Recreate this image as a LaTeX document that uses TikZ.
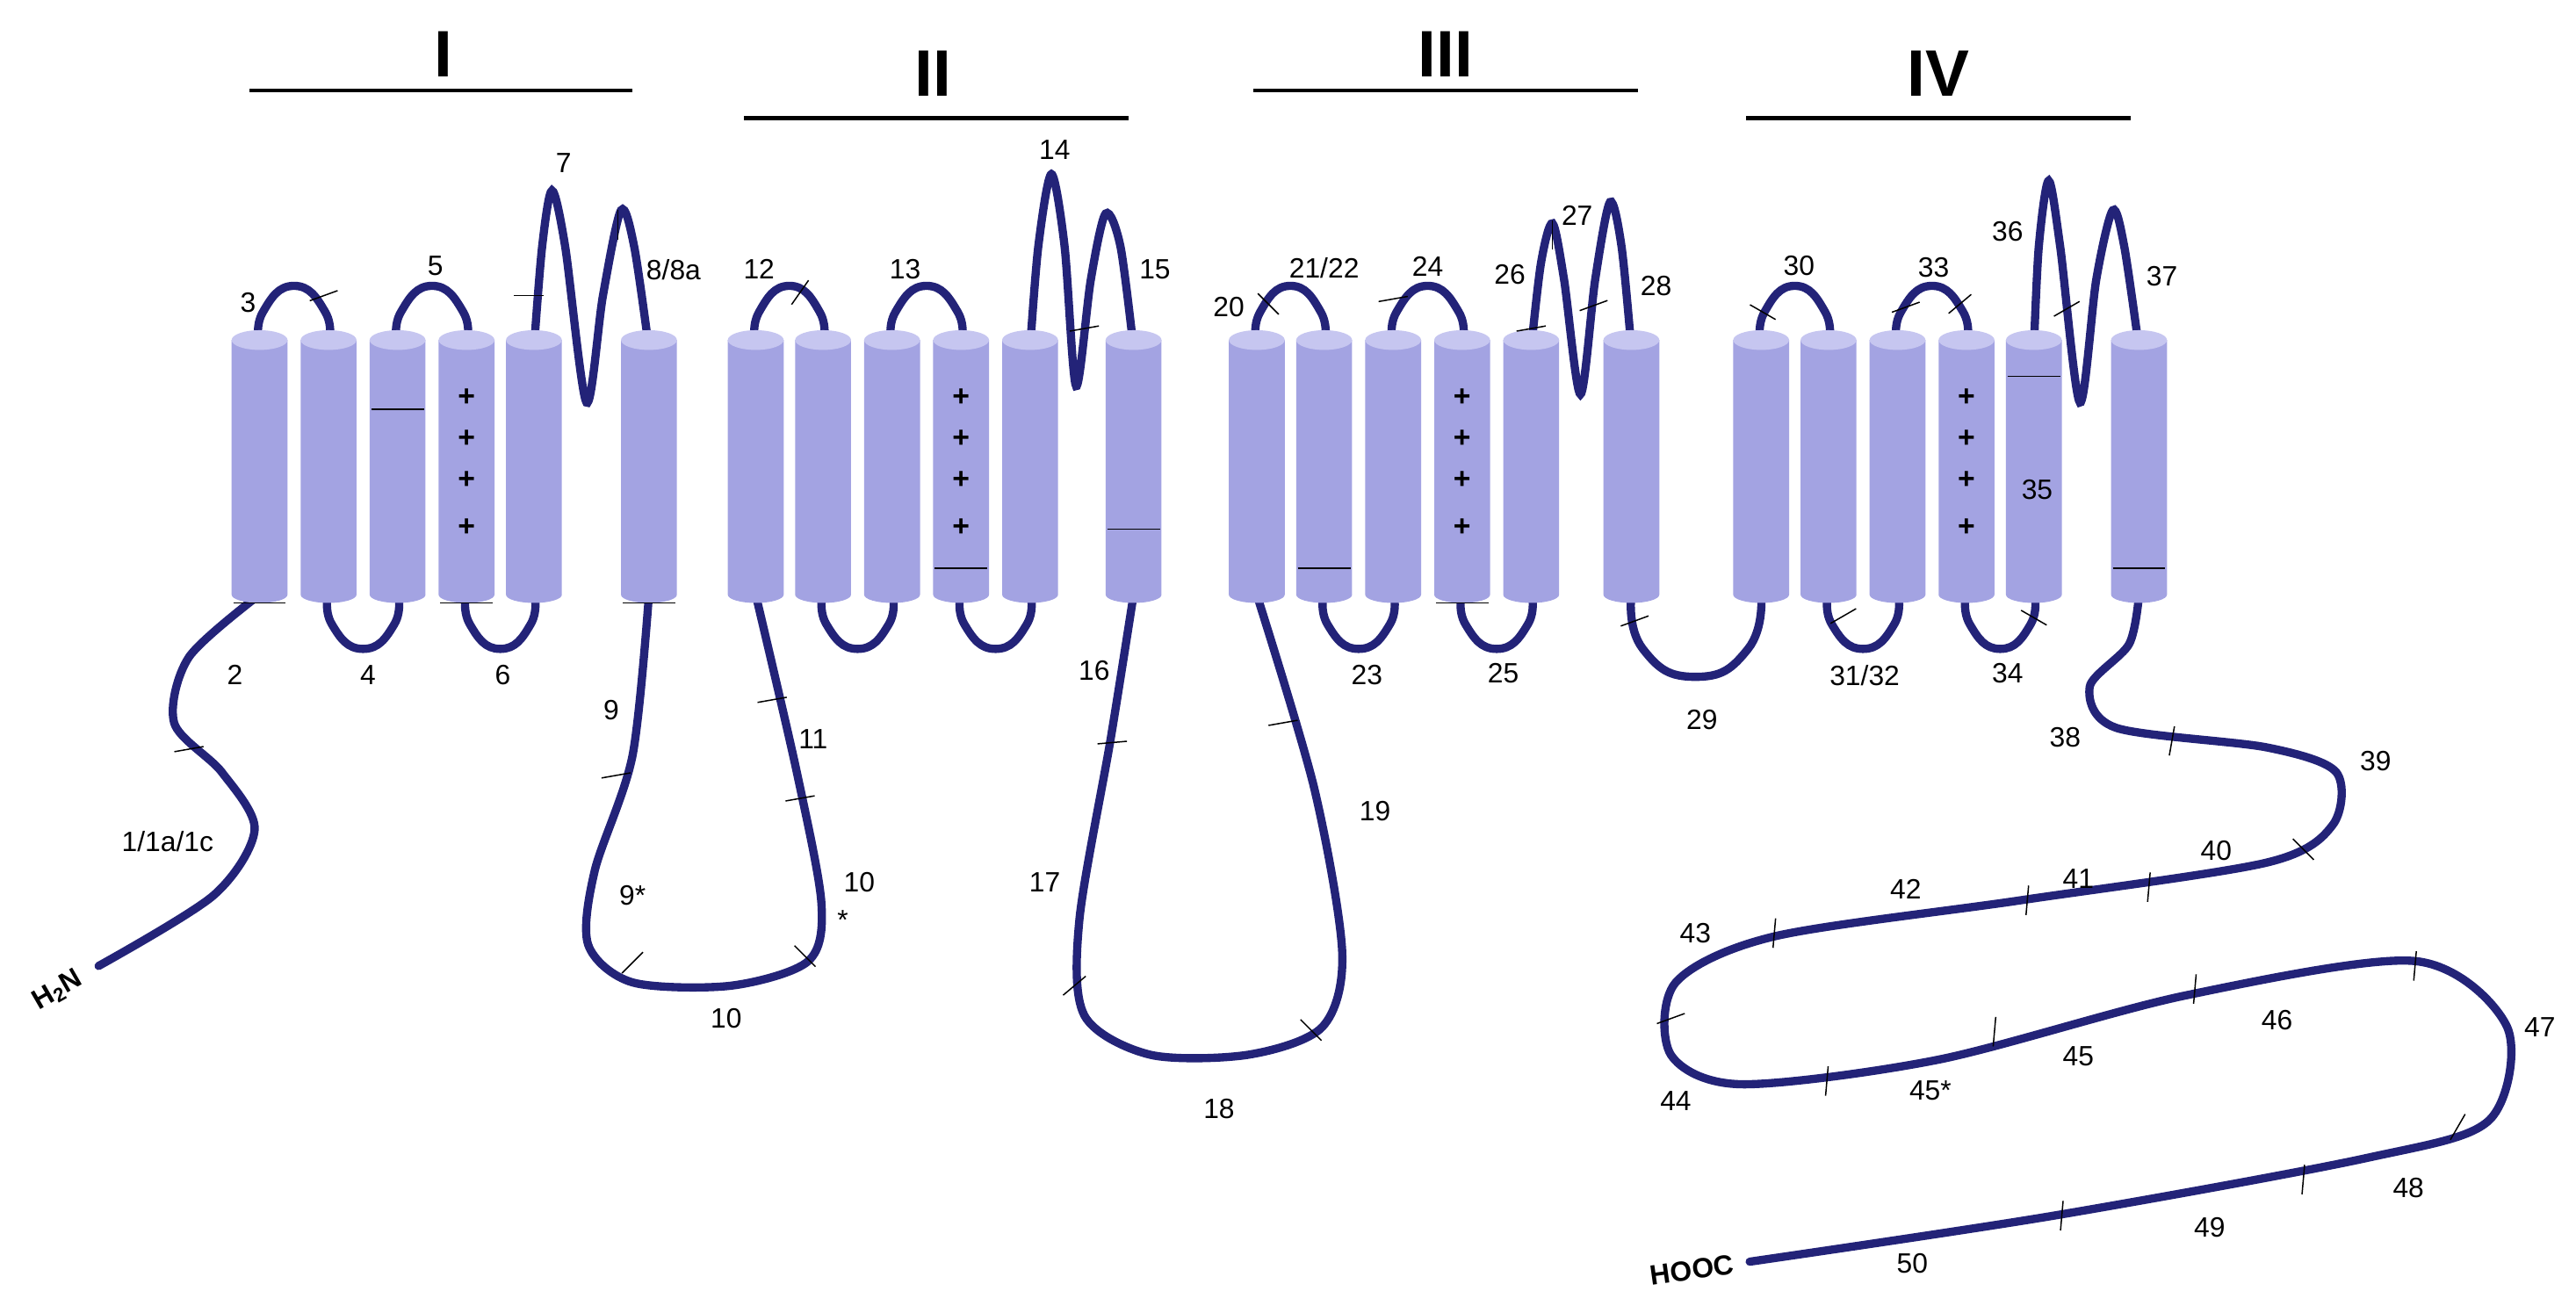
\documentclass[tikz,border=0pt]{standalone}
\usepackage{fontspec}
\setmainfont{Liberation Sans}
\definecolor{navy}{HTML}{232378}
\definecolor{cyl}{HTML}{A3A3E2}
\definecolor{cyltop}{HTML}{C6C6F0}
\tikzset{chain/.style={draw=navy,line width=5pt,line cap=round},
 lab/.style={font=\fontsize{17}{17}\selectfont},
 rom/.style={font=\bfseries\fontsize{40}{40}\selectfont},
 bar/.style={line width=2.5pt},
 tk/.style={line width=0.8pt}}
\newcommand{\cylx}[1]{%
 \fill[cyl] (#1-17,207) -- (#1-17,362) arc[start angle=180,end angle=0,x radius=17,y radius=5] -- (#1+17,207) -- cycle;
 \fill[cyltop] (#1,207) ellipse[x radius=17,y radius=6];}
\newcommand{\tick}[3]{\draw[tk] (#1,#2) ++(#3:9) -- ++(#3+180:18);}
\newcommand{\toparc}[2]{\draw[chain] plot[smooth,tension=0.9] coordinates {(#1,210) (#1+2,190) (#1/2+#2/2,174) (#2-2,190) (#2,210)};}
\newcommand{\botarc}[2]{\draw[chain] plot[smooth,tension=0.9] coordinates {(#1,360) (#1+2,380) (#1/2+#2/2,395) (#2-2,380) (#2,360)};}
\begin{document}
\begin{tikzpicture}[x=1pt,y=-1pt]
\useasboundingbox (0,0) rectangle (1568,799);
% loops
\draw[chain] plot[smooth] coordinates {(60,588) (130,545) (155,505) (135,470) (106,440) (115,400) (158,362)};
\toparc{158}{200}\botarc{200}{242}\toparc{242}{284}\botarc{284}{325}
\draw[chain] plot[smooth] coordinates {(325,212) (330,150) (336,116) (344,150) (357,245) (367,180) (378,128) (386,150) (395,212)};
\draw[chain] plot[smooth] coordinates {(395,362) (385,460) (362,530) (358,575) (385,598) (445,600) (492,585) (500,550) (485,470) (460,362)};
\toparc{460}{501}\botarc{501}{543}\toparc{543}{585}\botarc{585}{627}
\draw[chain] plot[smooth] coordinates {(627,212) (632,150) (640,106) (648,150) (655,235) (664,170) (673,130) (682,150) (690,212)};
\draw[chain] plot[smooth] coordinates {(690,362) (676,450) (657,560) (660,618) (700,642) (760,642) (805,625) (817,580) (800,480) (765,362)};
\toparc{765}{806}\botarc{806}{848}\toparc{848}{890}\botarc{890}{932}
\draw[chain] plot[smooth] coordinates {(932,212) (938,160) (945,136) (952,170) (962,240) (971,170) (980,123) (987,150) (993,212)};
\draw[chain] plot[smooth,tension=0.9] coordinates {(993,362) (1000,395) (1032,412) (1064,395) (1072,362)};
\toparc{1072}{1113}\botarc{1113}{1155}\toparc{1155}{1197}\botarc{1197}{1238}
\draw[chain] plot[smooth] coordinates {(1238,212) (1241,150) (1247,110) (1254,150) (1266,245) (1276,170) (1286,128) (1293,150) (1302,212)};
\draw[chain] plot[smooth] coordinates {(1302,362) (1296,392) (1272,418) (1288,443) (1380,455) (1422,470) (1420,502) (1380,525) (1230,548) (1080,570) (1020,598) (1017,642) (1060,660) (1180,645) (1330,606) (1470,585) (1526,625) (1515,682) (1440,705) (1250,740) (1065,768)};
% cylinders
\foreach \x in {158,200,242,284,325,395,460,501,543,585,627,690,765,806,848,890,932,993,1072,1113,1155,1197,1238,1302} {\cylx{\x}}
% plus signs
\foreach \x in {284,585,890,1197} {\foreach \y in {242,267,292,321} {\node[font=\bfseries\fontsize{18}{18}\selectfont] at (\x,\y) {+};}}
% inner bars
\draw[tk] (226,249)--(258,249); \draw[tk] (379,367)--(411,367); \draw[tk] (142,367)--(174,367); \draw[tk] (268,367)--(300,367);
\draw[tk] (569,346)--(601,346); \draw[tk] (674,322)--(706,322); \draw[tk] (790,346)--(822,346); \draw[tk] (874,367)--(906,367);
\draw[tk] (1222,229)--(1254,229); \draw[tk] (1286,346)--(1318,346);
% ticks
\tick{197}{180}{160}\tick{322}{180}{180}\tick{376}{137}{90}\tick{487}{178}{125}\tick{660}{200}{170}
\tick{772}{185}{45}\tick{848}{182}{170}\tick{932}{200}{170}\tick{945}{143}{90}\tick{970}{186}{160}
\tick{1073}{190}{30}\tick{1160}{187}{160}\tick{1193}{185}{140}\tick{1258}{188}{150}
\tick{1122}{375}{150}\tick{1238}{376}{30}\tick{995}{378}{160}
\tick{115}{456}{170}\tick{470}{426}{170}\tick{487}{486}{170}\tick{375}{472}{170}\tick{385}{586}{135}\tick{490}{582}{45}
\tick{677}{452}{175}\tick{781}{440}{170}\tick{654}{600}{140}\tick{798}{627}{45}
\tick{1322}{451}{100}\tick{1402}{517}{45}\tick{1308}{540}{95}\tick{1234}{548}{95}\tick{1080}{568}{95}
\tick{1017}{620}{160}\tick{1112}{658}{95}\tick{1214}{628}{95}\tick{1336}{602}{95}\tick{1470}{588}{95}
\tick{1496}{686}{120}\tick{1402}{718}{95}\tick{1255}{740}{95}
% titles
\draw[bar] (152,55)--(385,55); \node[rom] at (270,33) {I};
\draw[bar] (453,72)--(687,72); \node[rom] at (568,45) {II};
\draw[bar] (763,55)--(997,55); \node[rom] at (880,33) {III};
\draw[bar] (1063,72)--(1297,72); \node[rom] at (1180,45) {IV};
% end labels
\node[font=\bfseries\fontsize{17}{17}\selectfont,rotate=30,inner sep=1pt] at (35,603) {H$_{\mathbf{2}}$N};
\node[font=\bfseries\fontsize{17}{17}\selectfont,rotate=8] at (1030,773) {HOOC};
% number labels
\foreach \t/\x/\y in {1\slash 1a\slash 1c/102/512,2/143/411,3/151/184,4/224/411,5/265/162,6/306/411,7/343/99,8\slash 8a/410/164,
9/372/432,9*/385/545,10/442/620,10/523/537,*/513/560,11/495/450,12/462/164,13/551/164,14/642/91,15/703/164,
16/666/408,17/636/537,18/742/675,19/837/494,20/748/187,21\slash 22/806/163,23/832/411,24/869/162,25/915/410,26/919/167,27/960/131,28/1008/174,29/1036/438,
30/1095/162,31\slash 32/1135/411,33/1177/163,34/1222/410,35/1240/298,36/1222/141,37/1316/168,38/1257/449,39/1446/463,
40/1349/518,41/1265/535,42/1160/541,43/1032/568,44/1020/670,45/1265/643,45*/1175/664,46/1386/621,47/1546/625,48/1466/723,49/1345/747,50/1164/769}
{\node[lab] at (\x,\y) {\t};}
\end{tikzpicture}
\end{document}
